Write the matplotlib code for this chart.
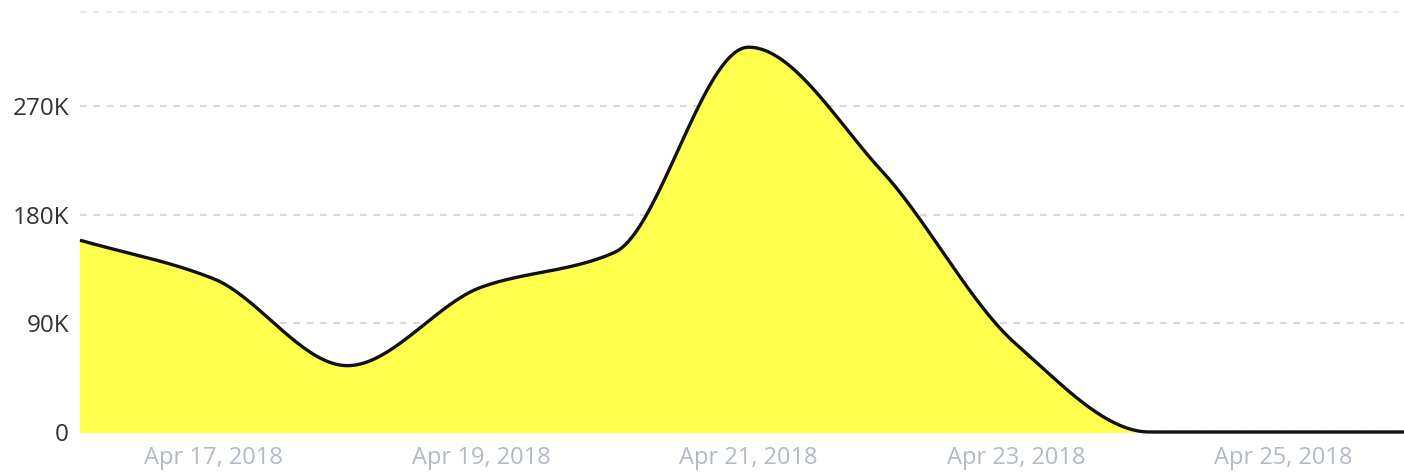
import numpy as np
import pandas as pd
import matplotlib
matplotlib.use('Agg')
import matplotlib.pyplot as plt
import matplotlib.dates as mdates
from matplotlib.ticker import FuncFormatter

# daily values
dates = ['2018-04-16', '2018-04-17', '2018-04-18', '2018-04-19', '2018-04-20',
         '2018-04-21', '2018-04-22', '2018-04-23', '2018-04-24', '2018-04-25',
         '2018-04-26']
values = [159000, 127000, 55000, 120000, 149000,
          319000, 216000, 73000, 0, 0, 0]
yticks = [0, 90000, 180000, 270000]
xticks = ['2018-04-17', '2018-04-19', '2018-04-21', '2018-04-23', '2018-04-25']


def monotone_curve(x, y, n=40):
    # monotone cubic (pchip style) smoothing, used only to draw the line
    x = np.asarray(x, float)
    y = np.asarray(y, float)
    h = np.diff(x)
    d = np.diff(y) / h
    m = np.zeros_like(y)
    for i in range(1, len(y) - 1):
        if d[i - 1] * d[i] > 0:
            w1 = 2 * h[i] + h[i - 1]
            w2 = h[i] + 2 * h[i - 1]
            m[i] = (w1 + w2) / (w1 / d[i - 1] + w2 / d[i])
    m[0] = d[0]
    m[-1] = d[-1]
    xs, ys = [], []
    for i in range(len(h)):
        t = np.linspace(0, 1, n, endpoint=(i == len(h) - 1))
        h00 = 2 * t**3 - 3 * t**2 + 1
        h10 = t**3 - 2 * t**2 + t
        h01 = -2 * t**3 + 3 * t**2
        h11 = t**3 - t**2
        xs.append(x[i] + t * h[i])
        ys.append(h00 * y[i] + h10 * h[i] * m[i] + h01 * y[i + 1] + h11 * h[i] * m[i + 1])
    return np.concatenate(xs), np.concatenate(ys)


df = pd.DataFrame({'date': pd.to_datetime(dates), 'value': values})
xnum = mdates.date2num(df['date'])
sx, sy = monotone_curve(xnum, df['value'])
sy = np.clip(sy, 0, None)

plt.rcParams['font.family'] = ['Open Sans', 'DejaVu Sans']

fig = plt.figure(figsize=(14.04, 4.75), dpi=100)
ax = fig.add_axes([80 / 1404, 43 / 475, 1 - 80 / 1404, 421 / 475])

for v in yticks:
    ax.axhline(v, color='#d6dbe1', lw=1.6, ls=(0, (3, 3)), zorder=0)
ax.axhline(349000, color='#e3e6ea', lw=1.8, ls=(0, (2.5, 2.5)), zorder=0)

ax.fill_between(sx, 0, sy, color='#ffff4d', zorder=1)
line, = ax.plot(sx, sy, color='#111111', lw=2.4, zorder=2, solid_capstyle='butt')
line.set_clip_on(False)

ax.set_xlim(xnum[0], xnum[0] + (1404 - 80) / 133.7)
ax.set_ylim(0, 349000)

ax.set_yticks(yticks)
ax.yaxis.set_major_formatter(FuncFormatter(lambda v, p: '0' if v == 0 else '%dK' % (v / 1000)))
ax.set_xticks(mdates.date2num(pd.to_datetime(xticks)))
ax.xaxis.set_major_formatter(mdates.DateFormatter('%b %d, %Y'))

ax.tick_params(axis='y', length=0, pad=8, labelsize=17.5, labelcolor='#333333')
ax.tick_params(axis='x', length=0, pad=10, labelsize=17, labelcolor='#b3bac4')
for s in ax.spines.values():
    s.set_visible(False)

plt.savefig('out.png', dpi=100)
plt.close('all')
